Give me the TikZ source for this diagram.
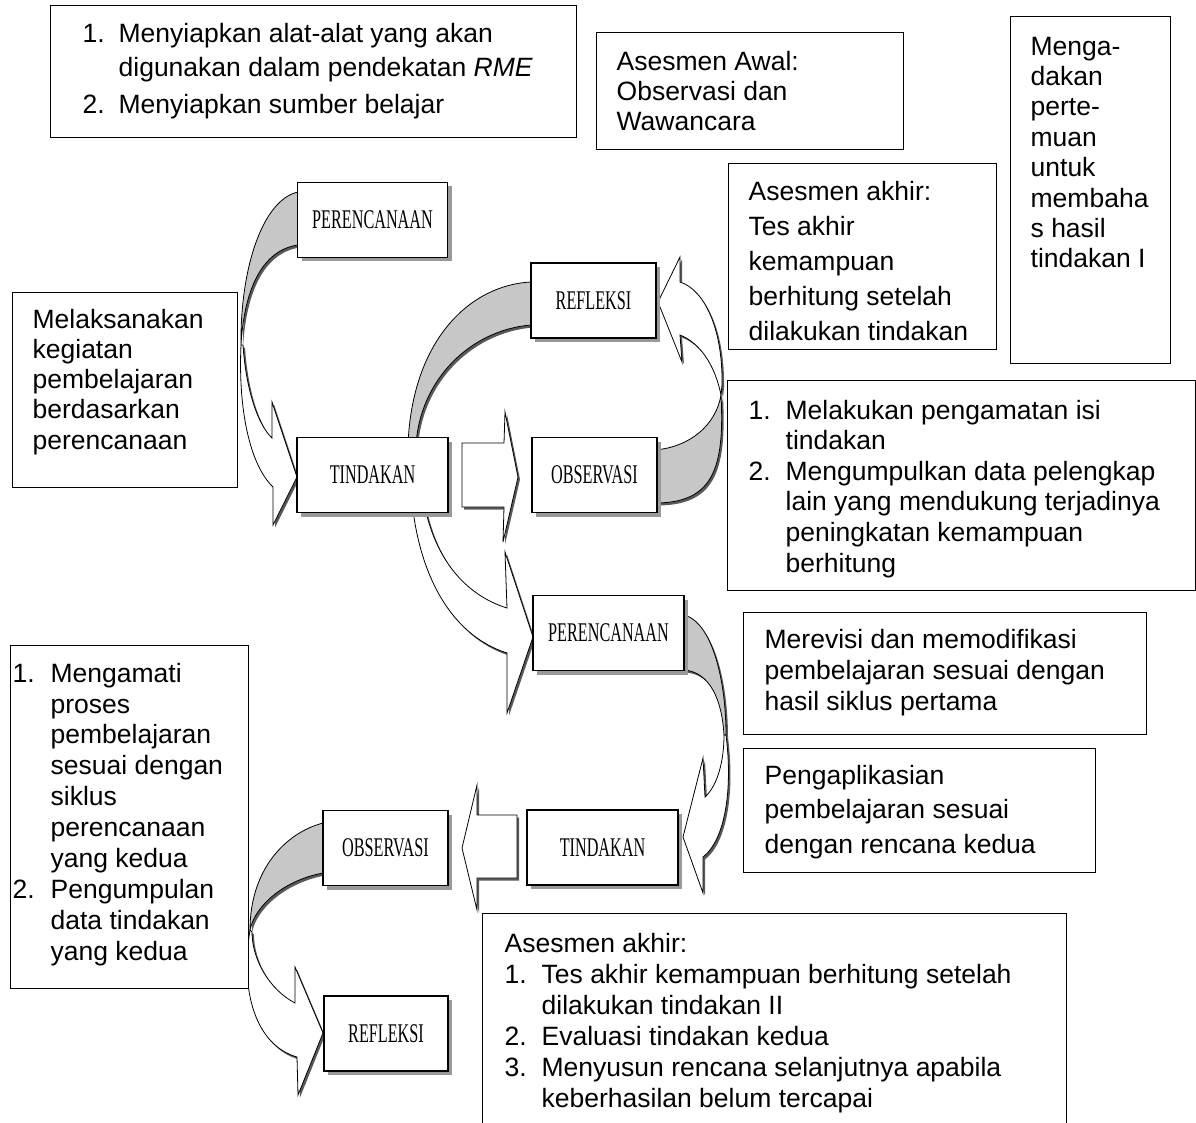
\documentclass[tikz,border=0pt]{standalone}
\usepackage{fontspec}
\setmainfont{Liberation Sans}
\newfontfamily\phasefont[FakeStretch=0.6]{Liberation Serif}
\usetikzlibrary{shadows}
\hyphenpenalty=10000
\exhyphenpenalty=10000

\newcommand{\itemnr}[2][37pt]{\makebox[#1][l]{#2}}
\newcommand{\itemcont}[1][37pt]{\hspace*{#1}}
\newcommand{\boxtext}[4][30.5pt]{\parbox[t][#2][t]{#3}{\fontsize{26.5}{#1}\selectfont\raggedright\rule{0pt}{20pt}#4}}

\begin{document}
\begin{tikzpicture}[x=1pt, y=-1pt,
	txtbox/.style={draw=black, line width=1.3pt, fill=white, anchor=north west, inner xsep=20pt, font=\fontsize{26.5}{30}\selectfont},
	phase/.style={draw=black, line width=1.2pt, fill=white, minimum height=75pt, inner sep=0pt, font=\phasefont\fontsize{27}{30}\selectfont, drop shadow={shadow xshift=4pt, shadow yshift=-4pt, fill=black!40, opacity=1}},
	ribbon/.style={draw=black, line width=0.8pt, drop shadow={shadow xshift=2pt, shadow yshift=-2.5pt, fill=black!65, opacity=1}},
	back/.style={ribbon, fill=black!22},
	front/.style={ribbon, fill=white}]

	\useasboundingbox (0,0) rectangle (1196,1123);

	% siklus I
	\path[back] (540,282) -- (531,282) .. controls (470,285) and (412,340) .. (408,445) -- (416,445) .. controls (420,380) and (470,330) .. (531,325) -- (540,325) -- cycle;
	\path[front] (410,470) .. controls (412,570) and (450,635) .. (507,653) -- (507,713) -- (533,637) -- (505,552) -- (507,608) .. controls (465,595) and (425,555) .. (420,470) -- cycle;
	\path[back] (305,192) -- (298,192) .. controls (262,200) and (240,270) .. (241,345) .. controls (244,290) and (262,250) .. (298,245) -- (305,245) -- cycle;
	\path[front] (241,345) .. controls (238,410) and (250,465) .. (273,487) -- (273,525) -- (297,477) -- (272,402) -- (272,438) .. controls (258,425) and (246,390) .. (243,345) -- cycle;
	\path[back] (650,450) -- (655,450) .. controls (690,447) and (716,425) .. (721,395) .. controls (725,470) and (712,503) .. (655,503) -- (650,503) -- cycle;
	\path[front] (721,395) .. controls (715,365) and (700,343) .. (680,335) -- (682,362) -- (658,302) -- (680,257) -- (680,282) .. controls (705,290) and (723,330) .. (722,385) -- cycle;
	\path[front] (462,443) -- (504,443) -- (505,412) -- (518,477) -- (503,542) -- (504,507) -- (462,507) -- cycle;

	% siklus II
	\path[back] (678,615) -- (684,615) .. controls (712,622) and (726,680) .. (726,735) -- (724,735) .. controls (722,700) and (710,672) .. (684,670) -- (678,670) -- cycle;
	\path[front] (726,735) .. controls (733,790) and (725,840) .. (703,857) -- (703,893) -- (683,837) -- (703,758) -- (705,797) .. controls (718,785) and (724,760) .. (724,735) -- cycle;
	\path[front] (517,815) -- (477,815) -- (477,785) -- (462,848) -- (477,910) -- (477,878) -- (517,878) -- cycle;
	\path[back] (330,823) -- (323,823) .. controls (285,833) and (250,870) .. (250,930) .. controls (255,905) and (285,880) .. (323,873) -- (330,873) -- cycle;
	\path[front] (250,930) .. controls (240,990) and (255,1045) .. (297,1057) -- (298,1095) -- (323,1033) -- (295,967) -- (295,1003) .. controls (270,990) and (252,960) .. (252,932) -- cycle;

	% tahap
	\node[phase, minimum width=150pt] (per1) at (372.5,220) {PERENCANAAN};
	\node[phase, minimum width=151pt] (tin1) at (372.5,475) {TINDAKAN};
	\node[phase, minimum width=125pt] (ref1) at (593.5,300.5) {REFLEKSI};
	\node[phase, minimum width=125pt] (obs1) at (594.5,475) {OBSERVASI};
	\node[phase, minimum width=151pt] (per2) at (608.5,633) {PERENCANAAN};
	\node[phase, minimum width=151pt] (tin2) at (602.5,847.5) {TINDAKAN};
	\node[phase, minimum width=125pt] (obs2) at (385.5,848) {OBSERVASI};
	\node[phase, minimum width=124pt] (ref2) at (386,1033.5) {REFLEKSI};

	% keterangan
	\node[txtbox, inner xsep=32pt, inner ysep=16.5pt] (persiapan) at (50,5) {\boxtext[34pt]{99pt}{462pt}{\itemnr[36pt]{1.}Menyiapkan alat-alat yang akan\\ \itemcont[36pt]digunakan dalam pendekatan \textit{RME}\\[3pt] \itemnr[36pt]{2.}Menyiapkan sumber belajar}};
	\node[txtbox, inner ysep=17.5pt] (awal) at (596,32) {\boxtext[30pt]{82pt}{267pt}{Asesmen Awal:\\Observasi dan\\Wawancara}};
	\node[txtbox, inner ysep=18.5pt] (pertemuan) at (1010,16) {\boxtext[30.4pt]{310pt}{120pt}{Menga-\\dakan\\perte-\\muan\\untuk\\membaha\\s hasil\\tindakan I}};
	\node[txtbox, inner ysep=16.5pt] (akhir1) at (728,163) {\boxtext[35.2pt]{153pt}{228pt}{Asesmen akhir:\\Tes akhir\\kemampuan\\berhitung setelah\\dilakukan tindakan}};
	\node[txtbox, inner ysep=15.5pt] (laksana) at (12,292) {\boxtext[30.25pt]{164pt}{185pt}{Melaksanakan\\kegiatan\\pembelajaran\\berdasarkan\\perencanaan}};
	\node[txtbox, inner xsep=21pt, inner ysep=18.5pt] (amati1) at (727,380) {\boxtext[30.6pt]{173pt}{426pt}{\itemnr{1.}Melakukan pengamatan isi\\ \itemcont tindakan\\ \itemnr{2.}Mengumpulkan data pelengkap\\ \itemcont lain yang mendukung terjadinya\\ \itemcont peningkatan kemampuan\\ \itemcont berhitung}};
	\node[txtbox, inner xsep=21pt, inner ysep=15.5pt] (revisi) at (743,612) {\boxtext[31pt]{91pt}{361pt}{Merevisi dan memodifikasi\\pembelajaran sesuai dengan\\hasil siklus pertama}};
	\node[txtbox, inner xsep=21pt, inner ysep=15.5pt] (aplikasi) at (743,748) {\boxtext[34.5pt]{93pt}{310pt}{Pengaplikasian\\pembelajaran sesuai\\dengan rencana kedua}};
	\node[txtbox, inner xsep=2pt, inner ysep=16.5pt] (amati2) at (10,645) {\boxtext[30.9pt]{310pt}{234pt}{\itemnr[38pt]{1.}Mengamati\\ \itemcont[38pt]proses\\ \itemcont[38pt]pembelajaran\\ \itemcont[38pt]sesuai dengan\\ \itemcont[38pt]siklus\\ \itemcont[38pt]perencanaan\\ \itemcont[38pt]yang kedua\\ \itemnr[38pt]{2.}Pengumpulan\\ \itemcont[38pt]data tindakan\\ \itemcont[38pt]yang kedua}};
	\node[txtbox, inner xsep=22pt, inner ysep=18.5pt] (akhir2) at (482,913) {\boxtext[31pt]{180pt}{540pt}{Asesmen akhir:\\ \itemnr{1.}Tes akhir kemampuan berhitung setelah\\ \itemcont dilakukan tindakan II\\ \itemnr{2.}Evaluasi tindakan kedua\\ \itemnr{3.}Menyusun rencana selanjutnya apabila\\ \itemcont keberhasilan belum tercapai}};
\end{tikzpicture}
\end{document}
